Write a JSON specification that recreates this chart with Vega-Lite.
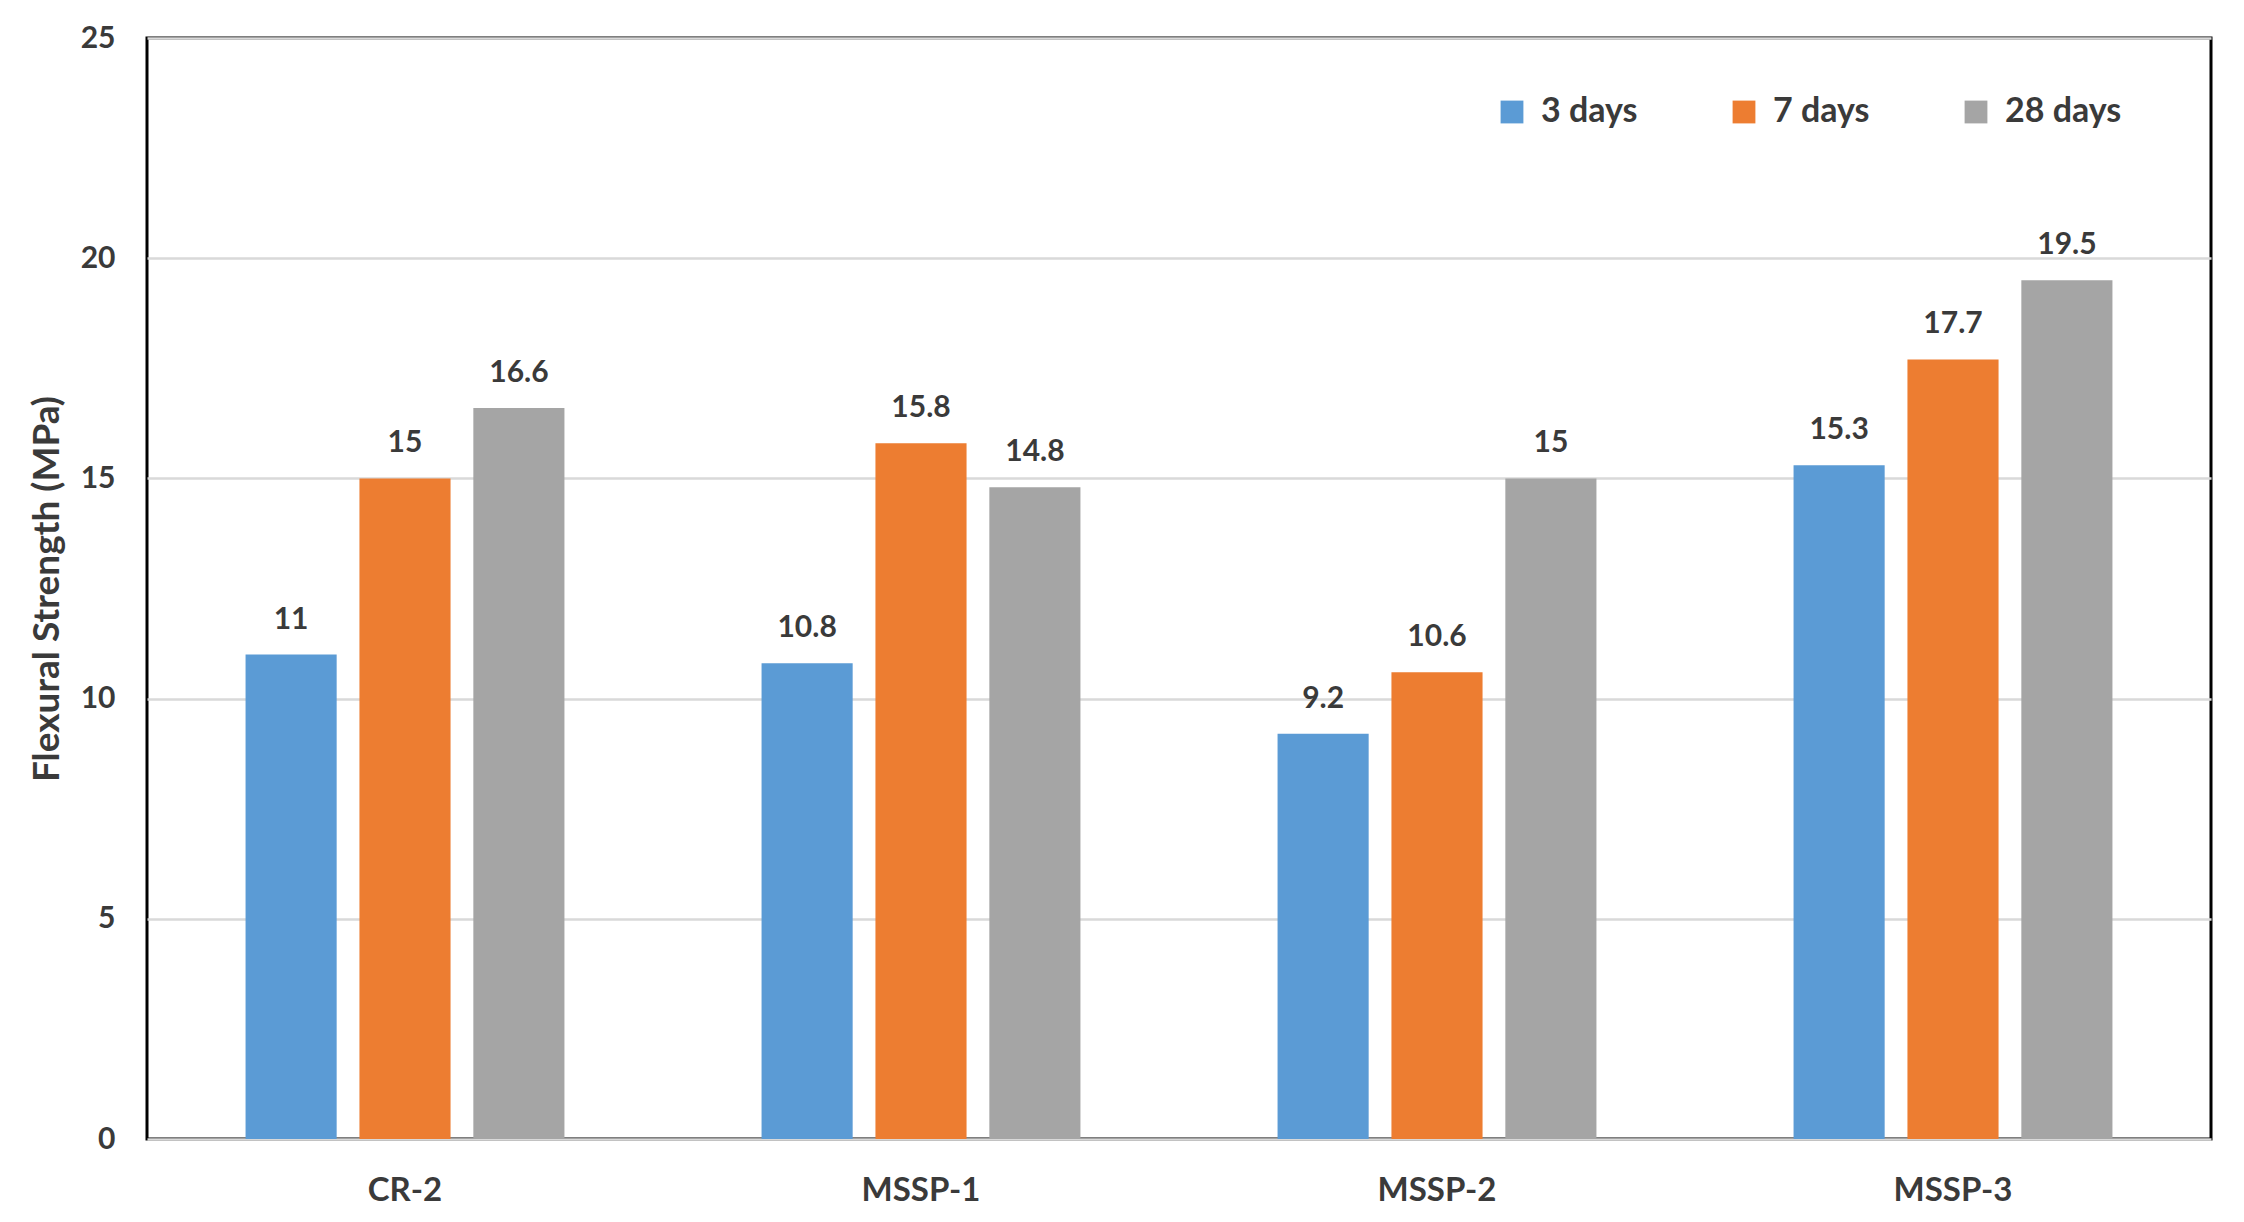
{
  "$schema": "https://vega.github.io/schema/vega-lite/v6.json",
  "width": 2064,
  "height": 1101,
  "autosize": "none",
  "padding": {"left": 147, "top": 38, "right": 33, "bottom": 83},
  "background": "white",
  "config": {
    "font": "Lato",
    "view": {"stroke": "#000000", "strokeWidth": 3},
    "axis": {"labelFont": "Lato", "titleFont": "Lato"}
  },
  "data": {
    "values": [
      {"mix": "CR-2", "age": "3 days", "strength": 11},
      {"mix": "CR-2", "age": "7 days", "strength": 15},
      {"mix": "CR-2", "age": "28 days", "strength": 16.6},
      {"mix": "MSSP-1", "age": "3 days", "strength": 10.8},
      {"mix": "MSSP-1", "age": "7 days", "strength": 15.8},
      {"mix": "MSSP-1", "age": "28 days", "strength": 14.8},
      {"mix": "MSSP-2", "age": "3 days", "strength": 9.2},
      {"mix": "MSSP-2", "age": "7 days", "strength": 10.6},
      {"mix": "MSSP-2", "age": "28 days", "strength": 15},
      {"mix": "MSSP-3", "age": "3 days", "strength": 15.3},
      {"mix": "MSSP-3", "age": "7 days", "strength": 17.7},
      {"mix": "MSSP-3", "age": "28 days", "strength": 19.5}
    ]
  },
  "encoding": {
    "x": {
      "field": "mix",
      "type": "nominal",
      "sort": ["CR-2", "MSSP-1", "MSSP-2", "MSSP-3"],
      "scale": {"paddingInner": 0.382, "paddingOuter": 0.191},
      "axis": {
        "title": null,
        "labelAngle": 0,
        "labelFontSize": 33,
        "labelFontWeight": "bold",
        "labelColor": "#3a3a3a",
        "labelPadding": 35,
        "ticks": false,
        "domain": false,
        "grid": false
      }
    },
    "xOffset": {
      "field": "age",
      "type": "nominal",
      "sort": ["3 days", "7 days", "28 days"],
      "scale": {"paddingInner": 0.2, "paddingOuter": 0}
    },
    "y": {
      "field": "strength",
      "type": "quantitative",
      "scale": {"domain": [0, 25]},
      "axis": {
        "title": "Flexural Strength (MPa)",
        "titleFontSize": 37,
        "titleFontWeight": "bold",
        "titleColor": "#3a3a3a",
        "titlePadding": 14,
        "values": [0, 5, 10, 15, 20, 25],
        "labelFontSize": 30,
        "labelFontWeight": "bold",
        "labelColor": "#3a3a3a",
        "labelPadding": 32,
        "ticks": false,
        "domain": false,
        "grid": true,
        "gridColor": "#d9d9d9",
        "gridWidth": 2.5
      }
    }
  },
  "layer": [
    {
      "mark": {"type": "bar"},
      "encoding": {
        "color": {
          "field": "age",
          "type": "nominal",
          "sort": ["3 days", "7 days", "28 days"],
          "scale": {"domain": ["3 days", "7 days", "28 days"], "range": ["#5B9BD5", "#ED7D31", "#A5A5A5"]},
          "legend": {
            "title": null,
            "orient": "none",
            "direction": "horizontal",
            "legendX": 1348,
            "legendY": 57,
            "symbolType": "square",
            "symbolSize": 520,
            "symbolStrokeWidth": 0,
            "symbolOpacity": 1,
            "labelFontSize": 34,
            "labelFontWeight": "bold",
            "labelColor": "#3a3a3a",
            "labelOffset": 12,
            "columnPadding": 89,
            "labelLimit": 300
          }
        }
      }
    },
    {
      "mark": {"type": "text", "fontSize": 30, "fontWeight": "bold", "color": "#3a3a3a", "baseline": "alphabetic", "dy": -26},
      "encoding": {
        "text": {"field": "strength", "type": "quantitative"}
      }
    }
  ]
}
